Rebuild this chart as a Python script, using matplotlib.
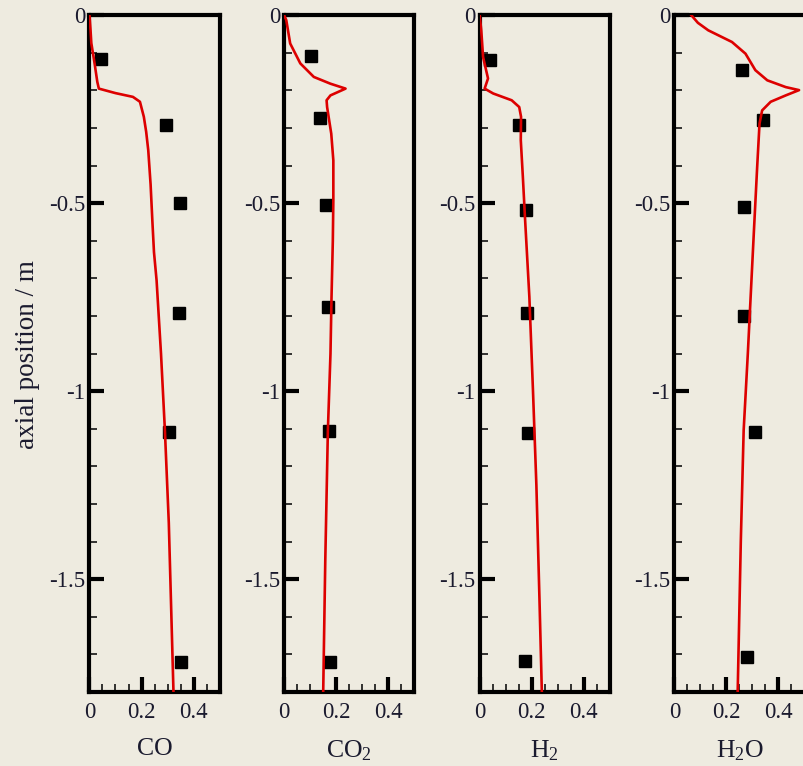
import matplotlib
matplotlib.use("Agg")
import matplotlib.pyplot as plt
from matplotlib.ticker import MultipleLocator, FixedLocator

plt.rcParams['font.family'] = ['Liberation Serif', 'DejaVu Serif']
plt.rcParams['mathtext.fontset'] = 'custom'
plt.rcParams['mathtext.rm'] = 'Liberation Serif'
plt.rcParams['mathtext.it'] = 'Liberation Serif:italic'
plt.rcParams['axes.unicode_minus'] = False

species = ['CO', 'CO$_2$', 'H$_2$', 'H$_2$O']

# simulation profiles (mole fraction vs axial position)
co_sim_x = [0.0, 0.004, 0.007, 0.02, 0.03, 0.036, 0.1, 0.167, 0.194, 0.209, 0.218, 0.226,
            0.235, 0.242, 0.248, 0.258, 0.275, 0.29, 0.305, 0.315, 0.323]
co_sim_y = [0.0, -0.04, -0.074, -0.13, -0.177, -0.195, -0.207, -0.217, -0.23, -0.27, -0.31, -0.359,
            -0.45, -0.55, -0.63, -0.705, -0.9, -1.104, -1.35, -1.6, -1.8]

co2_sim_x = [0.0, 0.008, 0.023, 0.062, 0.114, 0.178, 0.236, 0.178, 0.163, 0.165, 0.181, 0.189,
             0.189, 0.187, 0.182, 0.178, 0.168, 0.158, 0.15]
co2_sim_y = [0.0, -0.013, -0.075, -0.128, -0.164, -0.182, -0.195, -0.213, -0.226, -0.244, -0.315, -0.386,
             -0.492, -0.6, -0.75, -0.9, -1.104, -1.45, -1.8]

h2_sim_x = [0.0, 0.006, 0.013, 0.032, 0.019, 0.052, 0.123, 0.152, 0.159, 0.158, 0.166, 0.174,
            0.191, 0.205, 0.218, 0.23, 0.239]
h2_sim_y = [0.0, -0.04, -0.111, -0.168, -0.195, -0.208, -0.226, -0.244, -0.27, -0.332, -0.43, -0.536,
            -0.749, -1.0, -1.25, -1.556, -1.8]

h2o_sim_x = [0.065, 0.09, 0.13, 0.221, 0.273, 0.311, 0.357, 0.428, 0.479, 0.428, 0.37, 0.337, 0.327,
             0.318, 0.305, 0.296, 0.282, 0.266, 0.255, 0.243]
h2o_sim_y = [0.0, -0.02, -0.04, -0.071, -0.102, -0.146, -0.173, -0.191, -0.199, -0.213, -0.23, -0.253, -0.288,
             -0.403, -0.58, -0.705, -0.9, -1.104, -1.4, -1.8]

# measurements
co_exp_x = [0.043, 0.295, 0.349, 0.344, 0.306, 0.351]
co_exp_y = [-0.117, -0.293, -0.5, -0.793, -1.108, -1.72]
co2_exp_x = [0.105, 0.137, 0.16, 0.169, 0.173, 0.177]
co2_exp_y = [-0.108, -0.273, -0.505, -0.776, -1.106, -1.72]
h2_exp_x = [0.039, 0.15, 0.177, 0.182, 0.186, 0.174]
h2_exp_y = [-0.12, -0.293, -0.517, -0.793, -1.112, -1.718]
h2o_exp_x = [0.26, 0.34, 0.267, 0.266, 0.31, 0.279]
h2o_exp_y = [-0.146, -0.279, -0.511, -0.8, -1.108, -1.708]

sim = [(co_sim_x, co_sim_y), (co2_sim_x, co2_sim_y), (h2_sim_x, h2_sim_y), (h2o_sim_x, h2o_sim_y)]
exp = [(co_exp_x, co_exp_y), (co2_exp_x, co2_exp_y), (h2_exp_x, h2_exp_y), (h2o_exp_x, h2o_exp_y)]

bg = '#eeebe0'
txt = '#1a1a2e'
W, H = 804, 766
fig = plt.figure(figsize=(W / 100, H / 100), dpi=100, facecolor=bg)

lefts = [89.5, 284.2, 479.7, 674.5]
top, bottom = 15.3, 692.0
for i, name in enumerate(species):
    ax = fig.add_axes([lefts[i] / W, (H - bottom) / H, 130 / W, (bottom - top) / H])
    ax.set_facecolor(bg)
    ax.plot(exp[i][0], exp[i][1], 's', color='black', ms=8.5, mec='black', clip_on=False, zorder=3)
    ax.plot(sim[i][0], sim[i][1], '-', color='#dd0000', lw=1.9, zorder=4)
    ax.set_xlim(0, 0.5)
    ax.set_ylim(-1.8, 0)
    ax.xaxis.set_major_locator(FixedLocator([0, 0.2, 0.4]))
    ax.xaxis.set_minor_locator(MultipleLocator(0.05))
    ax.yaxis.set_major_locator(FixedLocator([0, -0.5, -1, -1.5]))
    ax.yaxis.set_minor_locator(MultipleLocator(0.1))
    ax.set_xticklabels(['0', '0.2', '0.4'])
    ax.set_yticklabels(['0', '-0.5', '-1', '-1.5'])
    ax.tick_params(which='major', direction='in', length=11, width=3, labelsize=16.5,
                   labelcolor=txt, color='black')
    ax.tick_params(which='minor', direction='in', length=6, width=1.1, color='black')
    ax.tick_params(axis='x', which='major', pad=7)
    ax.tick_params(axis='y', which='major', pad=3)
    for s in ax.spines.values():
        s.set_linewidth(3)
        s.set_color('black')
    ax.set_xlabel(name, fontsize=18.5, color=txt, labelpad=11)

fig.text(28 / W, 1 - 355 / H, 'axial position / m', rotation=90, fontsize=19.5,
         color=txt, ha='center', va='center')

fig.savefig('out.png', dpi=100, facecolor=bg)
